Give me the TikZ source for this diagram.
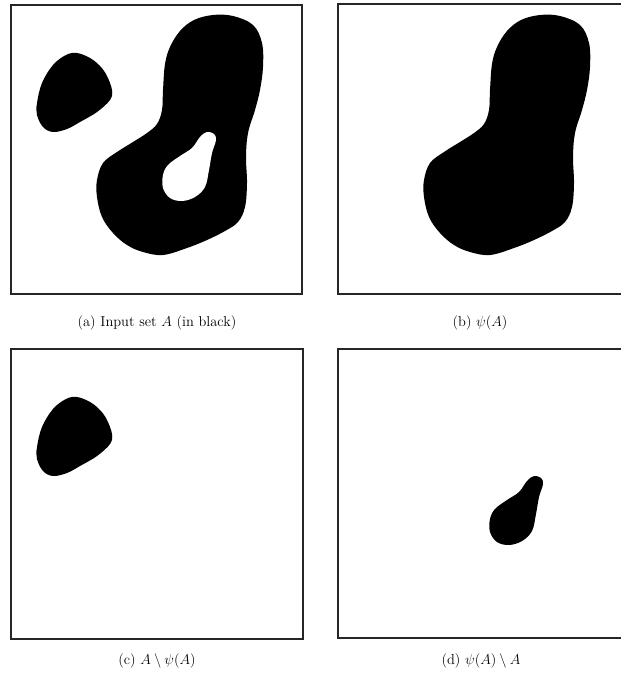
\documentclass[tikz,border=0pt]{standalone}
\begin{document}
\begin{tikzpicture}[x=1bp,y=-1bp,
  frame/.style={line width=2bp, draw=black!85},
  caption/.style={font=\fontsize{14.5}{17}\selectfont, inner sep=0pt},
  blob/.style={fill=black, draw=none},
  hole/.style={fill=white, draw=none},
  smallblob/.pic={\path[blob] plot[smooth cycle, tension=0.6] coordinates {(77,53) (90,58) (100,66) (107,76) (112,90) (110,100) (97,112) (80,122) (67,129) (53,132) (43,127) (37,115) (37,103) (42,83) (53,65) (66,55)};},
  bigblob/.pic={\path[blob] plot[smooth cycle, tension=0.6] coordinates {(180,31) (194,20) (213,15) (233,16) (253,25) (262,43) (263,67) (260,90) (255,110) (248,133) (246,157) (247,183) (245,207) (238,222) (225,231) (207,240) (187,248) (163,255) (143,252) (127,245) (113,233) (102,217) (97,197) (97,180) (103,163) (117,152) (133,142) (147,133) (157,124) (162,110) (163,90) (165,64) (170,47)};},
  pearpts/.pic={\path[#1] plot[smooth cycle, tension=0.6] coordinates {(207,132) (214,134) (216,140) (212,153) (209,170) (205,187) (195,197) (182,201) (170,198) (163,188) (163,175) (168,165) (180,156) (192,148) (200,137)};}
]
\useasboundingbox (0,0) rectangle (621,675);
% panel (a)
\path[fill=white] (10.7,4.7) rectangle (302,294.3);
\pic {smallblob};
\pic {bigblob};
\pic {pearpts=hole};
\draw[frame] (10.7,4.7) rectangle (302,294.3);
\node[caption] (capa) at (157,323) {(a) Input set $A$ (in black)};
% panel (b)
\pic at (327,0) {bigblob};
\draw[frame] (337.7,4.5) rectangle (630,294.3);
\node[caption] (capb) at (480,323) {(b) $\psi(A)$};
% panel (c)
\pic at (0,344) {smallblob};
\draw[frame] (10.7,348.5) rectangle (302.5,638.5);
\node[caption] (capc) at (157,661) {(c) $A\setminus\psi(A)$};
% panel (d)
\pic at (327,344) {pearpts=blob};
\draw[frame] (337.5,348.5) rectangle (630,637.5);
\node[caption] (capd) at (481,661) {(d) $\psi(A)\setminus A$};
\end{tikzpicture}
\end{document}
